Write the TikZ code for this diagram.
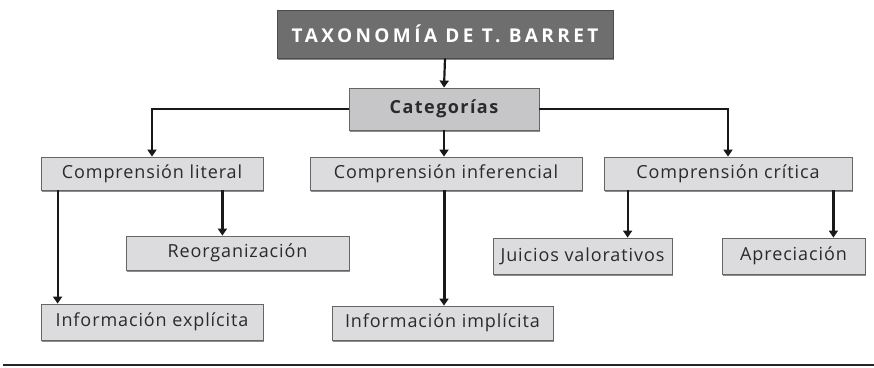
\documentclass[tikz,border=0pt]{standalone}
\usepackage{fontspec}
\setmainfont{Open Sans}
\newfontfamily\bodyfont[LetterSpace=5]{Open Sans}
\newfontfamily\catfont[LetterSpace=8]{Open Sans}
\newfontfamily\titlefont[LetterSpace=18]{Open Sans}
\usetikzlibrary{arrows.meta,shadows}
\definecolor{boxfill}{HTML}{DCDCDE}
\definecolor{catfill}{HTML}{C6C6C8}
\definecolor{titlefill}{HTML}{6E6E6E}
\definecolor{txt}{HTML}{2A2A2A}
\tikzset{
  box/.style={draw=black!60, line width=0.8pt, fill=boxfill, inner sep=0pt,
    text=txt, font=\bodyfont\fontsize{18}{20}\selectfont,
    drop shadow={shadow xshift=1.2pt, shadow yshift=-1.5pt, opacity=1, fill=black!45}},
  catbox/.style={box, fill=catfill, font=\catfont\bfseries\fontsize{18}{20}\selectfont},
  titlebox/.style={box, fill=titlefill, draw=black!70, text=white,
    font=\titlefont\bfseries\fontsize{19}{21}\selectfont},
  arr/.style={line width=2.2pt, draw=black!90, -{Triangle[width=9pt,length=7pt]}},
  thinline/.style={line width=1.3pt, draw=black!90}
}
\begin{document}
\begin{tikzpicture}[x=1pt,y=-1pt]
\useasboundingbox (0,0) rectangle (874,367);
\node[titlebox, minimum width=336pt, minimum height=48pt] (title) at (445,34) {TAXONOMÍA DE T. BARRET};
\node[catbox, minimum width=190pt, minimum height=42pt] (cat) at (444,109) {Categorías};
\node[box, minimum width=222pt, minimum height=33pt] (lit) at (152,173.5) {Comprensión literal};
\node[box, minimum width=272pt, minimum height=33pt] (inf) at (446,173.5) {Comprensión inferencial};
\node[box, minimum width=248pt, minimum height=33pt] (cri) at (728,173.5) {Comprensión crítica};
\node[box, minimum width=223pt, minimum height=34pt] (reo) at (237.5,253) {Reorganización};
\node[box, minimum width=222pt, minimum height=36pt] (exp) at (152,322) {Información explícita};
\node[box, minimum width=221pt, minimum height=34pt] (imp) at (442.5,323) {Información implícita};
\node[box, minimum width=179pt, minimum height=36pt] (jui) at (582.5,256) {Juicios valorativos};
\node[box, minimum width=143pt, minimum height=36pt] (apr) at (793.5,256) {Apreciación};
% connectors
\draw[arr] (title.south) -- (cat.north);
\coordinate (kl) at (lit.north |- cat.west);
\coordinate (kr) at (cri.north |- cat.east);
\draw[thinline] (cat.west) -- (kl);
\draw[arr, line width=2pt] ([yshift=0.65pt]kl) -- (lit.north);
\draw[thinline] (cat.east) -- (kr);
\draw[arr, line width=2pt] ([yshift=0.65pt]kr) -- (cri.north);
\draw[arr] (cat.south) -- (cat.south |- inf.north);
\coordinate (l1) at ([xshift=17pt]lit.south west);
\draw[arr] (l1) -- (l1 |- exp.north);
\coordinate (l2) at ([xshift=-41pt]lit.south east);
\draw[arr] (l2) -- (l2 |- reo.north);
\coordinate (i1) at ([xshift=-2pt]inf.south);
\draw[arr, line width=3pt] (i1) -- (i1 |- imp.north);
\coordinate (c1) at ([xshift=24pt]cri.south west);
\draw[arr] (c1) -- (c1 |- jui.north);
\coordinate (c2) at ([xshift=-19pt]cri.south east);
\draw[arr] (c2) -- (c2 |- apr.north);
% bottom rule
\coordinate (r1) at (3,365);
\coordinate (r2) at (874,365);
\draw[line width=1.6pt, black!85] (r1) -- (r2);
\end{tikzpicture}
\end{document}
